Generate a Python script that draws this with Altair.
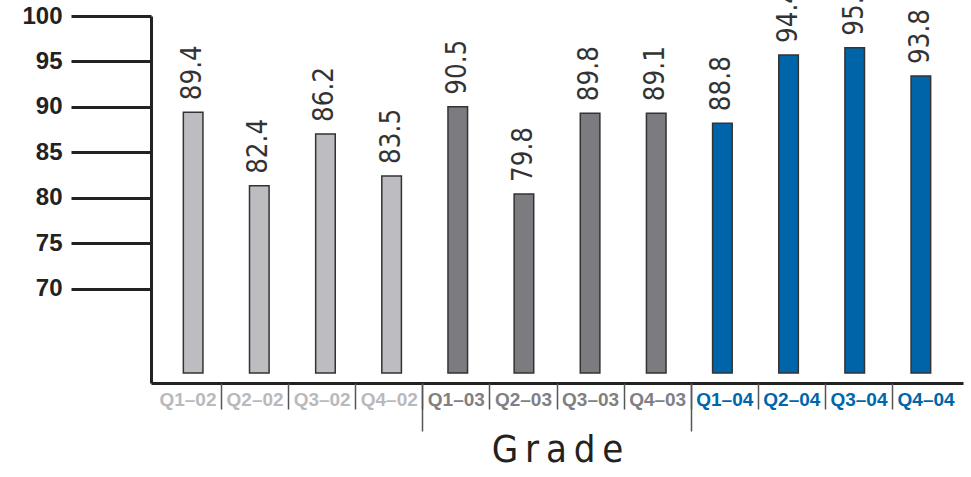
import altair as alt
import pandas as pd

quarters = ["Q1–02", "Q2–02", "Q3–02", "Q4–02",
            "Q1–03", "Q2–03", "Q3–03", "Q4–03",
            "Q1–04", "Q2–04", "Q3–04", "Q4–04"]
years = ["2002"] * 4 + ["2003"] * 4 + ["2004"] * 4
bar_values = [89.4, 81.3, 87.0, 82.4, 90.0, 80.4, 89.3, 89.3, 88.2, 95.7, 96.5, 93.4]
labels = ["89.4", "82.4", "86.2", "83.5", "90.5", "79.8", "89.8", "89.1",
          "88.8", "94.4", "95.6", "93.8"]
year_domain = ["2002", "2003", "2004"]
year_colors = ["#bdbdc1", "#7c7c80", "#0065a8"]
y_ticks = [70, 75, 80, 85, 90, 95, 100]
long_sep = ["Q1–03", "Q1–04"]
baseline = 60.7
x_title = "G\u2009r\u2009a\u2009d\u2009e"

df = pd.DataFrame({"quarter": quarters, "year": years, "value": bar_values,
                   "label": labels, "base": baseline})

NARROW = "Liberation Sans Narrow, DejaVu Sans Condensed, sans-serif"

y_enc = alt.Y("value:Q",
              scale=alt.Scale(domain=[59.6, 100], nice=False, zero=False),
              axis=alt.Axis(values=y_ticks, tickSize=80, tickWidth=3, tickColor="#222",
                            domainWidth=3, domainColor="#222", labelFontSize=24,
                            labelFontWeight="bold", labelFont="Liberation Sans",
                            labelColor="#222", labelPadding=9, grid=False),
              title=None)

x_bars = alt.X("quarter:N", sort=quarters,
               scale=alt.Scale(paddingInner=0, paddingOuter=0.137), axis=None)

bars = alt.Chart(df).mark_bar(size=19.6, stroke="#333", strokeWidth=1.5).encode(
    x=x_bars, y=y_enc, y2="base:Q",
    color=alt.Color("year:N", scale=alt.Scale(domain=year_domain, range=year_colors),
                    legend=None))

texts = alt.Chart(df).mark_text(angle=270, align="left", baseline="middle", dx=12,
                                font=NARROW, fontSize=27.5, color="#333").encode(
    x=x_bars, y="value:Q", text="label:N")

axis_scale = alt.Scale(paddingInner=0, paddingOuter=0.0507)

label_color = {"condition": [
    {"test": "indexof(datum.value, '–02') >= 0", "value": "#b9b9bd"},
    {"test": "indexof(datum.value, '–03') >= 0", "value": "#808084"}],
    "value": "#0066aa"}

axis_labels = alt.Chart(df).mark_rule(opacity=0).encode(
    x=alt.X("quarter:N", sort=quarters, scale=axis_scale,
            axis=alt.Axis(orient="bottom", ticks=False, domain=True, domainWidth=3,
                          domainColor="#222", labelFont="Liberation Sans",
                          labelFontSize=19, labelFontWeight="bold", labelColor=label_color,
                          labelPadding=7, labelAngle=0, title=x_title,
                          titleFont=NARROW, titleFontSize=38, titleFontWeight="normal",
                          titleColor="#222", titlePadding=22)))

axis_ticks = alt.Chart(df).mark_rule(opacity=0).encode(
    x=alt.X("quarter:N", sort=quarters, scale=axis_scale,
            axis=alt.Axis(orient="bottom", labels=False, domain=False, ticks=True,
                          tickSize=26, tickWidth=1.5, tickColor="#555", bandPosition=0,
                          tickOpacity={"condition": {"test": "datum.value === 'Q1–02'",
                                                     "value": 0}, "value": 1},
                          title=None)))

axis_long = alt.Chart(df).mark_rule(opacity=0).encode(
    x=alt.X("quarter:N", sort=quarters, scale=axis_scale,
            axis=alt.Axis(orient="bottom", labels=False, domain=False, ticks=True,
                          values=long_sep, tickSize=48, tickWidth=1.5, tickColor="#555",
                          bandPosition=0, title=None)))

chart = alt.layer(alt.layer(bars, texts), axis_labels, axis_ticks, axis_long).resolve_scale(
    x="independent").properties(
    width=812, height=367,
    padding={"left": 151, "top": 16, "right": 8, "bottom": 94},
    autosize=alt.AutoSizeParams(type="none"),
    background="white").configure_view(stroke=None)

chart.save("out.html", embed_options={"renderer": "svg", "actions": False})
